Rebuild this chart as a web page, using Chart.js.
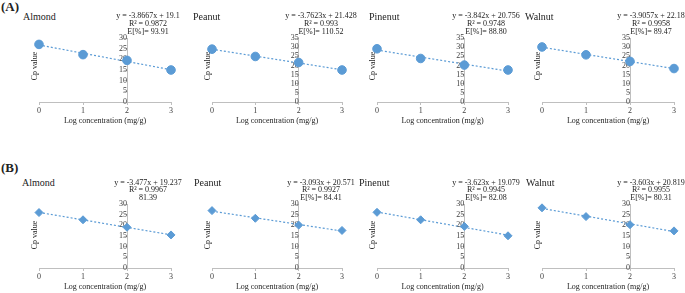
<!DOCTYPE html>
<html lang="en">
<head>
  <meta charset="UTF-8">
  <script src="https://cdn.jsdelivr.net/npm/chart.js"></script>
  <title>Cp value x Log concentration</title>
  <style>
    body { margin: 0; width: 685px; height: 293px; position: relative; background: #fff; overflow: hidden;
           font-family: 'Liberation Serif', 'Times New Roman', serif; color: #222; }
    canvas { position: absolute; }
    .rotulo { position: absolute; font-size: 13px; line-height: 14px; font-weight: bold; }
    .nome { position: absolute; font-size: 10px; line-height: 10px; }
    .eq { position: absolute; width: 100px; font-size: 8px; text-align: center; white-space: nowrap; }
    .ytit { position: absolute; font-size: 8px; line-height: 8px; white-space: nowrap; transform: translate(-50%, -50%) rotate(-90deg); }
  </style>
</head>
<body>
  <div class="rotulo" style="left:1px; top:0px">(A)</div>
  <div class="rotulo" style="left:1px; top:161px">(B)</div>
</body>
</html>

<script>
  // dados
  const logConc = [0, 1, 2, 3];
  const nozes = ['Almond', 'Peanut', 'Pinenut', 'Walnut'];

  const cpAlmondA = [27.0, 22.2, 19.5, 15.0];
  const cpPeanutA = [28.9, 24.9, 21.6, 17.5];
  const cpPinenutA = [29.1, 23.8, 20.2, 17.5];
  const cpWalnutA = [30.1, 25.8, 22.2, 18.3];

  const cpAlmondB = [26.0, 22.6, 19.1, 15.5];
  const cpPeanutB = [26.9, 23.3, 20.1, 17.6];
  const cpPinenutB = [26.1, 22.6, 19.5, 15.1];
  const cpWalnutB = [28.2, 24.1, 20.3, 17.4];

  const yMaxA = [30, 35, 35, 35];
  const yMaxB = [30, 30, 30, 30];

  const eqA = ['y = -3.8667x + 19.1', 'y = -3.7623x + 21.428', 'y = -3.842x + 20.756', 'y = -3.9057x + 22.18'];
  const r2A = ['R² = 0.9872', 'R² = 0.993', 'R² = 0.9748', 'R² = 0.9958'];
  const efA = ['E[%]= 93.91', 'E[%]= 110.52', 'E[%]= 88.80', 'E[%]= 89.47'];

  const eqB = ['y = -3.477x + 19.237', 'y = -3.093x + 20.571', 'y = -3.623x + 19.079', 'y = -3.603x + 20.819'];
  const r2B = ['R² = 0.9967', 'R² = 0.9927', 'R² = 0.9945', 'R² = 0.9955'];
  const efB = ['81.39', 'E[%]= 84.41', 'E[%]= 82.08', 'E[%]= 80.31'];

  // posicao de cada painel na tela
  const eixoX0 = [39, 212, 377, 542];
  const eixoX3 = [171, 342, 508, 674];
  const nomeXA = [23, 193, 369, 525];
  const nomeXB = [22, 194, 359, 526];

  const azul = '#5b9bd5';
  Chart.defaults.font.family = "'Liberation Serif', 'Times New Roman', serif";
  Chart.defaults.font.size = 8;
  Chart.defaults.color = '#404040';

  // reta de tendencia por minimos quadrados
  function tendencia(valores) {
    let mx = 0, my = 0;
    for (let i = 0; i < valores.length; i++) { mx += logConc[i]; my += valores[i]; }
    mx /= valores.length; my /= valores.length;
    let sxy = 0, sxx = 0;
    for (let i = 0; i < valores.length; i++) {
      sxy += (logConc[i] - mx) * (valores[i] - my);
      sxx += (logConc[i] - mx) * (logConc[i] - mx);
    }
    const m = sxy / sxx, b = my - m * mx;
    return [{ x: 0, y: b }, { x: 3, y: b + 3 * m }];
  }

  function texto(cls, html, left, top, extra) {
    const d = document.createElement('div');
    d.className = cls;
    d.innerHTML = html;
    d.style.left = left + 'px';
    d.style.top = top + 'px';
    if (extra) d.style.cssText += extra;
    document.body.appendChild(d);
  }

  function plotarPainel(valores, idx, yMax, topo, forma, raio) {
    const esq = 30, dir = 8, alturaArea = 64;
    const cv = document.createElement('canvas');
    const largura = esq + (eixoX3[idx] - eixoX0[idx]) + dir;
    cv.width = largura;
    cv.height = 8 + alturaArea + 25;
    cv.style.left = (eixoX0[idx] - esq) + 'px';
    cv.style.top = (topo - 8) + 'px';
    document.body.appendChild(cv);

    new Chart(cv, {
      type: 'scatter',
      data: {
        datasets: [{
          data: logConc.map((x, i) => ({ x: x, y: valores[i] })),
          pointStyle: forma,
          pointRadius: raio,
          pointHoverRadius: raio,
          backgroundColor: azul,
          borderColor: azul,
          clip: false,
          order: 0
        }, {
          type: 'line',
          data: tendencia(valores),
          borderColor: azul,
          borderWidth: 1.2,
          borderDash: [2, 2],
          pointRadius: 0,
          clip: false,
          order: 1
        }]
      },
      options: {
        responsive: false,
        animation: false,
        events: [],
        layout: { padding: { left: esq, right: dir, top: 8, bottom: 0 } },
        plugins: { legend: { display: false }, tooltip: { enabled: false } },
        scales: {
          x: {
            type: 'linear', min: 0, max: 3,
            ticks: { stepSize: 1, padding: 1, color: '#404040' },
            grid: { drawOnChartArea: false, tickLength: 3, color: '#bfbfbf' },
            border: { color: '#bfbfbf' },
            title: { display: true, text: 'Log concentration (mg/g)', color: '#222', padding: { top: 0, bottom: 1 } },
            afterFit: (s) => { s.height = 25; }
          },
          y: {
            position: { x: 2 },
            min: 0, max: yMax,
            ticks: { stepSize: 5, padding: 2, autoSkip: false, color: '#404040' },
            grid: { drawOnChartArea: false, tickLength: 3, color: '#bfbfbf' },
            border: { color: '#bfbfbf' }
          }
        }
      }
    });
  }

  const seriesA = [cpAlmondA, cpPeanutA, cpPinenutA, cpWalnutA];
  const seriesB = [cpAlmondB, cpPeanutB, cpPinenutB, cpWalnutB];

  for (let i = 0; i < 4; i++) {
    // painel A
    plotarPainel(seriesA[i], i, yMaxA[i], 38, 'circle', 4.3);
    texto('nome', nozes[i], nomeXA[i], 12);
    texto('eq', eqA[i] + '<br>' + r2A[i] + '<br>' + efA[i], eixoX0[i] + 109 - 50, 12, 'line-height:8px');
    texto('ytit', 'Cp value', eixoX0[i] - 4, 66);

    // painel B
    plotarPainel(seriesB[i], i, yMaxB[i], 204, 'rectRot', 4);
    texto('nome', nozes[i], nomeXB[i], 178);
    texto('eq', eqB[i] + '<br>' + r2B[i] + '<br>' + efB[i], eixoX0[i] + 109 - 50, 179, 'line-height:7.4px');
    texto('ytit', 'Cp value', eixoX0[i] - 4, 235);
  }
</script>
